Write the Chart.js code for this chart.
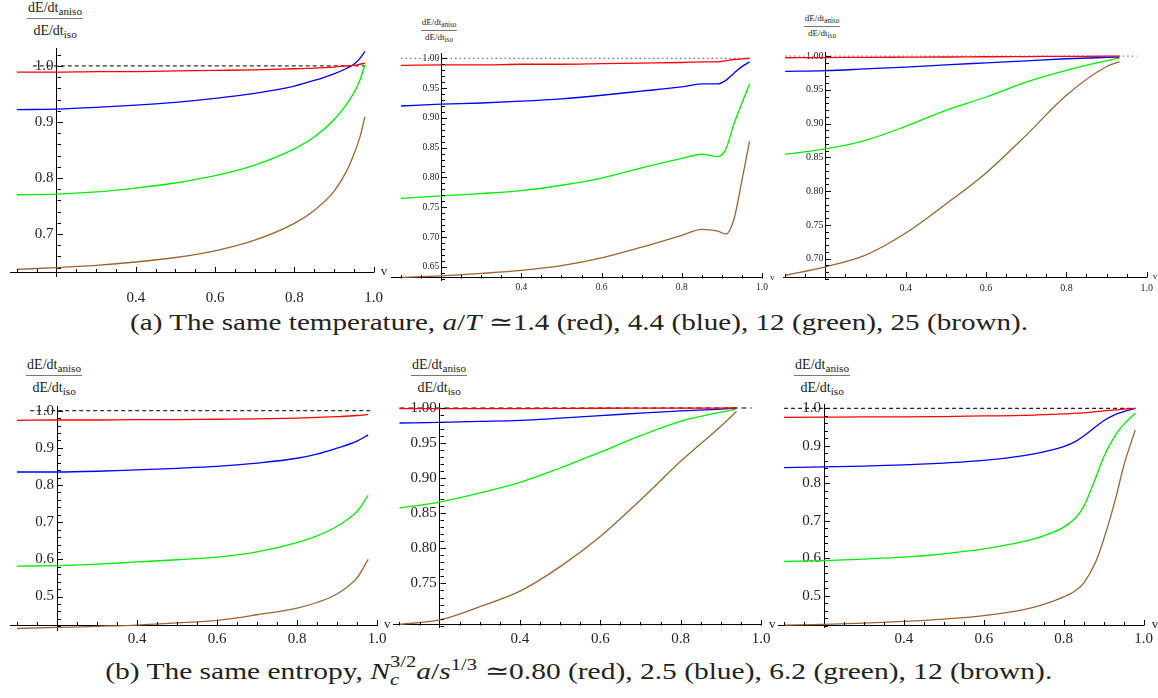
<!DOCTYPE html>
<html><head><meta charset="utf-8">
<script src="https://cdn.jsdelivr.net/npm/chart.js@4.4.1/dist/chart.umd.min.js"></script>
<style>
html,body{margin:0;padding:0;background:#fff;}
body{width:1158px;height:698px;position:relative;overflow:hidden;font-family:"Liberation Serif","DejaVu Serif","Noto Serif","Times New Roman",Times,serif;color:#222;}
canvas.panel{position:absolute;}
.frac{position:absolute;display:inline-block;text-align:center;line-height:1.1;white-space:nowrap;color:#222;}
.frac .num{border-bottom:1px solid #777;padding:0 0.08em 0.22em 0.08em;}
.frac .den{padding-top:0.22em;}
.frac sub{font-size:0.8em;vertical-align:-0.3em;line-height:0;}
.cap{position:absolute;left:0;width:1158px;text-align:center;font-size:24px;line-height:28px;white-space:nowrap;color:#222;}
.cap span.t{display:inline-block;transform-origin:50% 50%;}
.cap i{font-style:italic;}
.stk{display:inline-block;position:relative;vertical-align:baseline;}
.stk .sp{position:absolute;left:0;top:-0.55em;font-size:0.7em;}
.stk .sb{position:absolute;left:0;top:0.55em;font-size:0.7em;}
sup.s{font-size:0.7em;vertical-align:0.55em;line-height:0;}
</style></head>
<body>

<script>
// ---------------- DATA ----------------
// (a) same temperature: left panel
const v_a1     = [0.1, 0.2, 0.3, 0.4, 0.5, 0.6, 0.7, 0.8, 0.85, 0.9, 0.93, 0.95, 0.965, 0.978];
const red_a1   = [0.989, 0.989, 0.990, 0.990, 0.991, 0.992, 0.993, 0.995, 0.996, 0.998, 1.000, 1.001, 1.003, 1.005];
const blue_a1  = [0.922, 0.923, 0.926, 0.930, 0.935, 0.942, 0.951, 0.964, 0.974, 0.986, 0.995, 1.003, 1.013, 1.026];
const green_a1 = [0.770, 0.771, 0.775, 0.782, 0.791, 0.804, 0.823, 0.852, 0.873, 0.904, 0.930, 0.952, 0.974, 1.002];
const brown_a1 = [0.637, 0.640, 0.644, 0.650, 0.658, 0.670, 0.689, 0.719, 0.742, 0.776, 0.810, 0.842, 0.872, 0.909];
// (a) middle panel
const v_a2     = [0.1, 0.2, 0.3, 0.4, 0.5, 0.6, 0.7, 0.8, 0.85, 0.89, 0.91, 0.93, 0.95, 0.969];
const red_a2   = [0.988, 0.989, 0.989, 0.990, 0.990, 0.991, 0.992, 0.993, 0.994, 0.994, 0.996, 0.998, 0.999, 1.000];
const blue_a2  = [0.920, 0.923, 0.925, 0.928, 0.932, 0.938, 0.945, 0.952, 0.957, 0.957, 0.963, 0.975, 0.986, 0.994];
const green_a2 = [0.765, 0.769, 0.773, 0.778, 0.787, 0.799, 0.816, 0.832, 0.839, 0.835, 0.848, 0.890, 0.925, 0.957];
const brown_a2 = [0.6325, 0.635, 0.639, 0.644, 0.652, 0.665, 0.683, 0.703, 0.713, 0.710, 0.705, 0.730, 0.795, 0.861];
// (a) right panel
const v_a3     = [0.1, 0.2, 0.3, 0.4, 0.5, 0.6, 0.7, 0.8, 0.9, 0.932];
const red_a3   = [0.9975, 0.9978, 0.998, 0.9983, 0.9986, 0.999, 0.9993, 0.9996, 0.9998, 1.0];
const blue_a3  = [0.9774, 0.9784, 0.981, 0.9837, 0.987, 0.990, 0.993, 0.996, 0.998, 0.9985];
const green_a3 = [0.8546, 0.8625, 0.8753, 0.896, 0.9197, 0.9394, 0.9615, 0.9789, 0.993, 0.997];
const brown_a3 = [0.6753, 0.688, 0.7053, 0.738, 0.781, 0.827, 0.883, 0.942, 0.9845, 0.9917];
// (b) same entropy: left panel
const v_b1     = [0.1, 0.2, 0.3, 0.4, 0.5, 0.6, 0.7, 0.8, 0.85, 0.9, 0.95, 0.978];
const red_b1   = [0.974, 0.975, 0.975, 0.976, 0.976, 0.977, 0.978, 0.980, 0.982, 0.984, 0.987, 0.990];
const blue_b1  = [0.835, 0.835, 0.837, 0.841, 0.845, 0.850, 0.859, 0.872, 0.883, 0.899, 0.918, 0.935];
const green_b1 = [0.582, 0.583, 0.587, 0.593, 0.599, 0.606, 0.620, 0.645, 0.663, 0.689, 0.729, 0.772];
const brown_b1 = [0.414, 0.417, 0.420, 0.4233, 0.429, 0.436, 0.451, 0.469, 0.484, 0.507, 0.550, 0.600];
// (b) middle panel
const v_b2     = [0.1, 0.2, 0.3, 0.4, 0.5, 0.6, 0.7, 0.8, 0.9, 0.939];
const red_b2   = [0.999, 0.999, 0.999, 0.9992, 0.9994, 0.9996, 0.9997, 0.9998, 0.9999, 1.0];
const blue_b2  = [0.9786, 0.9795, 0.9808, 0.9823, 0.9855, 0.989, 0.9928, 0.996, 0.9985, 1.0];
const green_b2 = [0.8575, 0.866, 0.879, 0.894, 0.9145, 0.937, 0.9605, 0.981, 0.994, 0.9986];
const brown_b2 = [0.6917, 0.698, 0.717, 0.739, 0.774, 0.817, 0.869, 0.924, 0.974, 0.995];
// (b) right panel
const v_b3     = [0.1, 0.2, 0.3, 0.4, 0.5, 0.6, 0.7, 0.75, 0.8, 0.83, 0.85, 0.88, 0.9, 0.93, 0.95, 0.979];
const red_b3   = [0.976, 0.9765, 0.977, 0.977, 0.978, 0.9796, 0.981, 0.983, 0.985, 0.987, 0.988, 0.991, 0.993, 0.996, 0.998, 1.0];
const blue_b3  = [0.842, 0.8437, 0.846, 0.849, 0.854, 0.861, 0.874, 0.884, 0.898, 0.912, 0.926, 0.951, 0.967, 0.984, 0.991, 1.0];
const green_b3 = [0.5915, 0.594, 0.598, 0.603, 0.612, 0.625, 0.645, 0.660, 0.683, 0.708, 0.738, 0.815, 0.870, 0.930, 0.957, 0.987];
const brown_b3 = [0.422, 0.4236, 0.427, 0.4316, 0.438, 0.447, 0.463, 0.477, 0.497, 0.514, 0.534, 0.590, 0.650, 0.760, 0.846, 0.942];

// reference line at ratio = 1 (x extent of each drawn guide)
const refY    = [1.0, 1.0];
const refX_a1 = [0.14, 0.978];
const refX_a2 = [0.10, 0.968];
const refX_a3 = [0.10, 0.975];
const refX_b1 = [0.133, 0.988];
const refX_b2 = [0.10, 0.977];
const refX_b3 = [0.10, 0.979];

// tick labels
const xTickVals   = [0.4, 0.6, 0.8, 1.0];
const xTickLabels = ['0.4', '0.6', '0.8', '1.0'];
const xMinorVals  = [0.1, 0.15, 0.25, 0.3, 0.35, 0.45, 0.5, 0.55, 0.65, 0.7, 0.75, 0.85, 0.9, 0.95];
const yTickVals_a1 = [0.7, 0.8, 0.9, 1.0];
const yTickLabels_a1 = ['0.7', '0.8', '0.9', '1.0'];
const yTickVals_a2 = [0.65, 0.70, 0.75, 0.80, 0.85, 0.90, 0.95, 1.00];
const yTickLabels_a2 = ['0.65', '0.70', '0.75', '0.80', '0.85', '0.90', '0.95', '1.00'];
const yTickVals_a3 = [0.70, 0.75, 0.80, 0.85, 0.90, 0.95, 1.00];
const yTickLabels_a3 = ['0.70', '0.75', '0.80', '0.85', '0.90', '0.95', '1.00'];
const yTickVals_b1 = [0.5, 0.6, 0.7, 0.8, 0.9, 1.0];
const yTickLabels_b1 = ['0.5', '0.6', '0.7', '0.8', '0.9', '1.0'];
const yTickVals_b2 = [0.75, 0.80, 0.85, 0.90, 0.95, 1.00];
const yTickLabels_b2 = ['0.75', '0.80', '0.85', '0.90', '0.95', '1.00'];
const yTickVals_b3 = [0.5, 0.6, 0.7, 0.8, 0.9, 1.0];
const yTickLabels_b3 = ['0.5', '0.6', '0.7', '0.8', '0.9', '1.0'];

const seriesColors = ['#ff0000', '#0000ff', '#00ee00', '#996633'];
</script>

<div class="frac" style="left:27px;top:0px;font-size:14px"><div class="num">dE/dt<sub>aniso</sub></div><div class="den">dE/dt<sub>iso</sub></div></div>
<div class="frac" style="left:421px;top:18px;font-size:9px"><div class="num">dE/dt<sub>aniso</sub></div><div class="den">dE/dt<sub>iso</sub></div></div>
<div class="frac" style="left:804px;top:14px;font-size:9px"><div class="num">dE/dt<sub>aniso</sub></div><div class="den">dE/dt<sub>iso</sub></div></div>
<div class="frac" style="left:26px;top:357px;font-size:14px"><div class="num">dE/dt<sub>aniso</sub></div><div class="den">dE/dt<sub>iso</sub></div></div>
<div class="frac" style="left:411px;top:357px;font-size:14px"><div class="num">dE/dt<sub>aniso</sub></div><div class="den">dE/dt<sub>iso</sub></div></div>
<div class="frac" style="left:794px;top:357px;font-size:14px"><div class="num">dE/dt<sub>aniso</sub></div><div class="den">dE/dt<sub>iso</sub></div></div>

<div class="cap" style="top:308px"><span class="t" data-w="898">(a) The same temperature, <i>a</i>/<i>T</i> &#x2243;1.4 (red), 4.4 (blue), 12 (green), 25 (brown).</span></div>
<div class="cap" style="top:657px"><span class="t" data-w="947">(b) The same entropy, <i>N</i><span class="stk"><span style="visibility:hidden;font-size:0.7em">3/2</span><span class="sp">3/2</span><span class="sb"><i>c</i></span></span><i>a</i>/<i>s</i><sup class="s">1/3</sup> &#x2243;0.80 (red), 2.5 (blue), 6.2 (green), 12 (brown).</span></div>

<canvas class="panel" id="c1" width="400" height="310" style="left:0px;top:0px"></canvas>
<canvas class="panel" id="c2" width="393" height="310" style="left:385px;top:0px"></canvas>
<canvas class="panel" id="c3" width="388" height="310" style="left:770px;top:0px"></canvas>
<canvas class="panel" id="c4" width="400" height="330" style="left:0px;top:330px"></canvas>
<canvas class="panel" id="c5" width="393" height="330" style="left:385px;top:330px"></canvas>
<canvas class="panel" id="c6" width="388" height="330" style="left:770px;top:330px"></canvas>

<script>
const FONT = '"Liberation Serif","DejaVu Serif","Noto Serif","Times New Roman",Times,serif';

// widen each caption horizontally so it spans the reference width
document.querySelectorAll('.cap span.t').forEach(el => {
  const target = +el.dataset.w;
  const w = el.getBoundingClientRect().width;
  el.style.transform = 'scaleX(' + (target / w).toFixed(4) + ')';
});

const axisExtras = {
  id: 'axisExtras',
  afterDraw(chart, args, o) {
    const ctx = chart.ctx, xs = chart.scales.x, ys = chart.scales.y;
    const x0 = Math.round(xs.getPixelForValue(o.yAxisAt)) + 0.5;
    const y0 = Math.round(ys.getPixelForValue(o.xAxisAt)) + 0.5;
    ctx.save();
    ctx.strokeStyle = '#000';
    ctx.lineWidth = 1;
    ctx.beginPath();
    xMinorVals.forEach(v => { const p = Math.round(xs.getPixelForValue(v)) + 0.5; ctx.moveTo(p, y0); ctx.lineTo(p, y0 - 3.5); });
    xTickVals.forEach(v => { const p = Math.round(xs.getPixelForValue(v)) + 0.5; ctx.moveTo(p, y0); ctx.lineTo(p, y0 - 5.5); });
    const k0 = Math.ceil(ys.min / o.yMinor - 1e-6), k1 = Math.floor(ys.max / o.yMinor + 1e-6);
    for (let k = k0; k <= k1; k++) {
      const v = k * o.yMinor;
      const major = o.yMajor.some(m => Math.abs(m - v) < 1e-6);
      const p = Math.round(ys.getPixelForValue(v)) + 0.5;
      ctx.moveTo(x0, p); ctx.lineTo(x0 + (major ? 5.5 : 3.5), p);
    }
    ctx.stroke();
    ctx.fillStyle = '#222';
    ctx.font = o.vSize + 'px ' + FONT;
    ctx.textBaseline = 'middle';
    ctx.textAlign = 'left';
    ctx.fillText('v', xs.right + o.vDx, y0 - 1);
    ctx.restore();
  }
};

function lineSet(xs, ys, color) {
  return { data: xs.map((x, i) => ({x: x, y: ys[i]})), borderColor: color, borderWidth: 1.3,
           pointRadius: 0, fill: false, cubicInterpolationMode: 'monotone' };
}

function makePanel(id, p) {
  const sets = p.series.map((s, i) => lineSet(p.v, s, seriesColors[i]));
  sets.push({ data: p.refX.map((x, i) => ({x: x, y: refY[i]})), borderColor: p.refColor, borderWidth: p.refWidth,
              borderDash: p.refDash, pointRadius: 0, fill: false, tension: 0 });
  new Chart(document.getElementById(id), {
    type: 'line',
    data: { datasets: sets },
    options: {
      responsive: false, animation: false, devicePixelRatio: 1,
      layout: { padding: p.pad },
      plugins: { legend: {display: false}, tooltip: {enabled: false},
                 axisExtras: { yAxisAt: 0.2, xAxisAt: p.xAxisAt, yMinor: p.yMinor, yMajor: p.yTickVals, vSize: p.vSize, vDx: p.vDx } },
      scales: {
        x: { type: 'linear', min: p.xmin, max: 1.0, position: {y: p.xAxisAt},
             afterBuildTicks: s => { s.ticks = xTickVals.map(v => ({value: v})); },
             ticks: { callback: (val, i) => xTickLabels[i], font: {family: FONT, size: p.fs}, color: '#222',
                      padding: p.xPad, maxRotation: 0, autoSkip: false },
             grid: { drawOnChartArea: false, drawTicks: false },
             border: { display: true, color: '#000', width: 1 } },
        y: { type: 'linear', min: p.ymin, max: p.ymax, position: {x: 0.2},
             afterBuildTicks: s => { s.ticks = p.yTickVals.map(v => ({value: v})); },
             ticks: { callback: (val, i) => p.yTickLabels[i] + p.ySpace, font: {family: FONT, size: p.fs}, color: '#222',
                      padding: 3, autoSkip: false },
             grid: { drawOnChartArea: false, drawTicks: false },
             border: { display: true, color: '#000', width: 1 } }
      }
    },
    plugins: [axisExtras]
  });
}

makePanel('c1', { v: v_a1, series: [red_a1, blue_a1, green_a1, brown_a1], refX: refX_a1, refColor: '#333', refWidth: 1.2, refDash: [4, 3],
  xmin: 0.0825, ymin: 0.625, ymax: 1.032, xAxisAt: 0.632, pad: {left: 10, right: 23, top: 48, bottom: 34},
  yTickVals: yTickVals_a1, yTickLabels: yTickLabels_a1, yMinor: 0.02, fs: 15, xPad: 17, ySpace: '\u2009', vSize: 13, vDx: 7 });
makePanel('c2', { v: v_a2, series: [red_a2, blue_a2, green_a2, brown_a2], refX: refX_a2, refColor: '#6a6ad0', refWidth: 1.2, refDash: [1.5, 3],
  xmin: 0.075, ymin: 0.628, ymax: 1.0089, xAxisAt: 0.632, pad: {left: 6, right: 16, top: 53, bottom: 30},
  yTickVals: yTickVals_a2, yTickLabels: yTickLabels_a2, yMinor: 0.01, fs: 9.5, xPad: 4, ySpace: '\u2009', vSize: 9, vDx: 8 });
makePanel('c3', { v: v_a3, series: [red_a3, blue_a3, green_a3, brown_a3], refX: refX_a3, refColor: '#7a7ac8', refWidth: 1.2, refDash: [1.5, 3],
  xmin: 0.0945, ymin: 0.670, ymax: 1.006, xAxisAt: 0.6728, pad: {left: 13, right: 11, top: 52, bottom: 31},
  yTickVals: yTickVals_a3, yTickLabels: yTickLabels_a3, yMinor: 0.01, fs: 10, xPad: 5, ySpace: '\u2009', vSize: 9, vDx: 6 });
makePanel('c4', { v: v_b1, series: [red_b1, blue_b1, green_b1, brown_b1], refX: refX_b1, refColor: '#333', refWidth: 1.2, refDash: [4, 3],
  xmin: 0.0825, ymin: 0.41, ymax: 1.0126, xAxisAt: 0.4233, pad: {left: 10, right: 23, top: 76, bottom: 30},
  yTickVals: yTickVals_b1, yTickLabels: yTickLabels_b1, yMinor: 0.02, fs: 15, xPad: 5, ySpace: '\u2009', vSize: 13, vDx: 7 });
makePanel('c5', { v: v_b2, series: [red_b2, blue_b2, green_b2, brown_b2], refX: refX_b2, refColor: '#555', refWidth: 1.4, refDash: [5, 4],
  xmin: 0.0839, ymin: 0.688, ymax: 1.0071, xAxisAt: 0.6909, pad: {left: 8, right: 17, top: 73, bottom: 33},
  yTickVals: yTickVals_b2, yTickLabels: yTickLabels_b2, yMinor: 0.01, fs: 15, xPad: 5, ySpace: '\u2009', vSize: 13, vDx: 8 });
makePanel('c6', { v: v_b3, series: [red_b3, blue_b3, green_b3, brown_b3], refX: refX_b3, refColor: '#222', refWidth: 1.2, refDash: [4, 3],
  xmin: 0.0848, ymin: 0.4168, ymax: 1.0115, xAxisAt: 0.4213, pad: {left: 8, right: 13, top: 74, bottom: 33},
  yTickVals: yTickVals_b3, yTickLabels: yTickLabels_b3, yMinor: 0.02, fs: 15, xPad: 5, ySpace: '\u2009', vSize: 13, vDx: 8 });
</script>
</body></html>
